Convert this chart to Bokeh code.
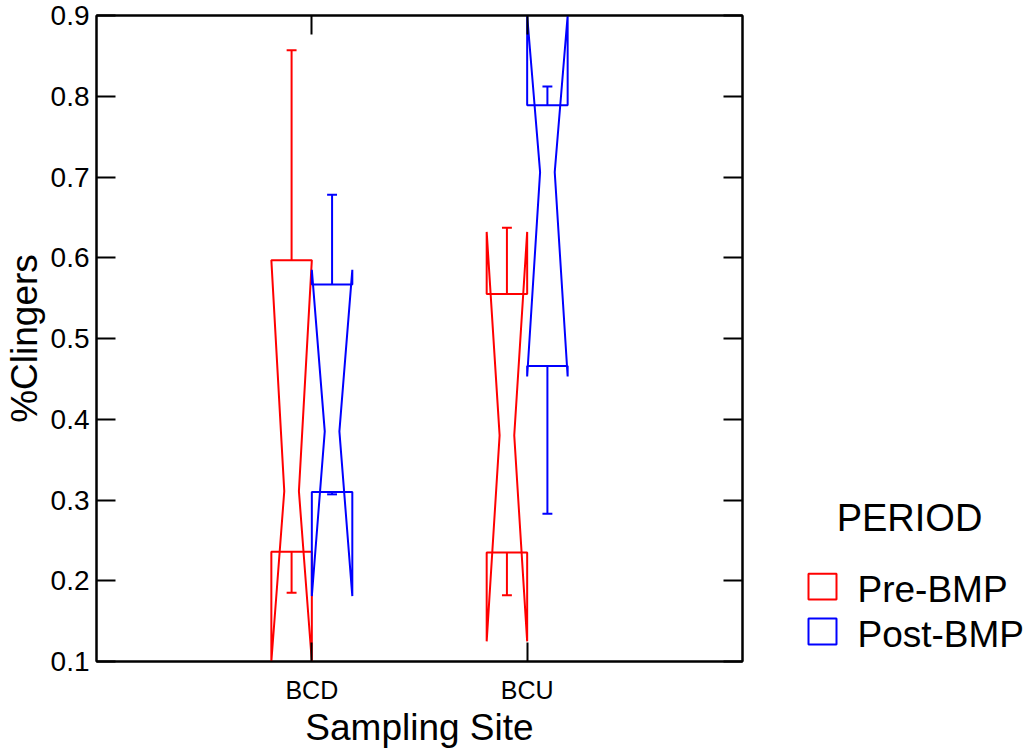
from bokeh.plotting import figure
from bokeh.layouts import row
from bokeh.models import (Range1d, LinearAxis, FixedTicker, CustomJSTickFormatter,
                          ColumnDataSource)
from bokeh.core.properties import value
from bokeh.embed import file_html
from bokeh.resources import INLINE

# ---- data ----
sites = ["BCD", "BCU"]
site_pos = [1, 2]
periods = ["Pre-BMP", "Post-BMP"]
colors = ["#ff0000", "#0000ff"]

pre_lower = [0.185, 0.182]
pre_q1 = [0.236, 0.235]
pre_median = [0.311, 0.380]
pre_q3 = [0.597, 0.555]
pre_upper = [0.857, 0.637]
pre_ci_low = [0.100, 0.125]
pre_ci_high = [0.597, 0.632]

post_lower = [0.307, 0.283]
post_q1 = [0.310, 0.466]
post_median = [0.385, 0.706]
post_q3 = [0.567, 0.789]
post_upper = [0.678, 0.812]
post_ci_low = [0.181, 0.453]
post_ci_high = [0.585, 0.900]

y_ticks = [0.1, 0.2, 0.3, 0.4, 0.5, 0.6, 0.7, 0.8, 0.9]
y_tick_labels = ["0.1", "0.2", "0.3", "0.4", "0.5", "0.6", "0.7", "0.8", "0.9"]
legend_title = "PERIOD"

FONT = "Liberation Sans"
MAIN_W = 745
LEG_W = 1029 - MAIN_W
TOP_B = 15
BOT_B = 88

p = figure(width=MAIN_W, height=750, x_range=Range1d(0, 3), y_range=Range1d(0.1, 0.9),
           output_backend="svg", toolbar_location=None, x_axis_location=None,
           y_axis_location=None)
p.min_border = 0
p.min_border_left = 96
p.min_border_right = 3
p.min_border_top = TOP_B
p.min_border_bottom = BOT_B
p.xgrid.visible = False
p.ygrid.visible = False
p.outline_line_color = "black"
p.outline_line_width = 2
p.background_fill_color = "white"
p.border_fill_color = "white"

blank = CustomJSTickFormatter(code="return ''")

def style_axis(ax):
    ax.axis_line_color = "black"
    ax.axis_line_width = 2
    ax.major_tick_line_color = "black"
    ax.major_tick_line_width = 2
    ax.major_tick_in = 19
    ax.major_tick_out = 0
    ax.minor_tick_line_color = None
    ax.major_label_text_font = FONT
    ax.axis_label_text_font = FONT
    ax.axis_label_text_font_style = "normal"
    ax.axis_label_text_color = "black"
    ax.major_label_text_color = "black"

# left
ly = LinearAxis(ticker=FixedTicker(ticks=y_ticks), axis_label="%Clingers")
style_axis(ly)
ly.major_label_overrides = {t: s for t, s in zip(y_ticks, y_tick_labels)}
ly.major_label_text_font_size = "28px"
ly.major_label_standoff = 7
ly.axis_label_text_font_size = "37px"
ly.axis_label_standoff = 3
p.add_layout(ly, "left")

# right
ry = LinearAxis(ticker=FixedTicker(ticks=y_ticks), formatter=blank)
style_axis(ry)
ry.major_label_standoff = 0
p.add_layout(ry, "right")

# bottom
bx = LinearAxis(ticker=FixedTicker(ticks=site_pos), axis_label="Sampling Site")
style_axis(bx)
bx.major_label_overrides = {pos: s for pos, s in zip(site_pos, sites)}
bx.major_label_text_font_size = "25px"
bx.major_label_standoff = 14
bx.axis_label_text_font_size = "37px"
bx.axis_label_standoff = 0
p.add_layout(bx, "below")

# top
tx = LinearAxis(ticker=FixedTicker(ticks=site_pos), formatter=blank)
style_axis(tx)
tx.major_label_standoff = 0
p.add_layout(tx, "above")

HALF = 0.094     # half box width (x units)
INDENT = 0.06    # notch indent
CAP = 0.023      # half cap width

def build(offset, lower, q1, med, q3, upper, lo, hi):
    xs, ys = [], []
    wx0, wy0, wx1, wy1 = [], [], [], []
    for i, s in enumerate(site_pos):
        c = s + offset
        L, R = c - HALF, c + HALF
        xs.append([L, L, L + INDENT, L, L, R, R, R - INDENT, R, R])
        ys.append([q3[i], hi[i], med[i], lo[i], q1[i], q1[i], lo[i], med[i], hi[i], q3[i]])
        wx0 += [c, c, c - CAP, c - CAP]
        wx1 += [c, c, c + CAP, c + CAP]
        wy0 += [q3[i], q1[i], upper[i], lower[i]]
        wy1 += [upper[i], lower[i], upper[i], lower[i]]
    return (ColumnDataSource(dict(xs=xs, ys=ys)),
            ColumnDataSource(dict(x0=wx0, y0=wy0, x1=wx1, y1=wy1)))

specs = [(-HALF, pre_lower, pre_q1, pre_median, pre_q3, pre_upper, pre_ci_low, pre_ci_high),
         (HALF, post_lower, post_q1, post_median, post_q3, post_upper, post_ci_low, post_ci_high)]
for col, spec in zip(colors, specs):
    box_src, wh_src = build(*spec)
    p.patches("xs", "ys", source=box_src, fill_alpha=0, line_color=col, line_width=2)
    p.segment("x0", "y0", "x1", "y1", source=wh_src, line_color=col, line_width=2)

# ---- legend panel: frame matches main frame; y range = page pixel rows ----
lg = figure(width=LEG_W, height=750, x_range=Range1d(0, LEG_W),
            y_range=Range1d(750 - BOT_B, TOP_B),
            output_backend="svg", toolbar_location=None, x_axis_location=None,
            y_axis_location=None)
lg.min_border = 0
lg.min_border_top = TOP_B
lg.min_border_bottom = BOT_B
lg.outline_line_color = None
lg.xgrid.visible = False
lg.ygrid.visible = False
lg.background_fill_color = "white"
lg.border_fill_color = "white"

OX = MAIN_W
key_left = [808 - OX, 808 - OX]
key_top = [574, 619]
lg.quad(left=key_left, right=[k + 28 for k in key_left], top=key_top,
        bottom=[t + 26 for t in key_top], fill_alpha=0, line_color=colors, line_width=2)
lg.text(x=[857 - OX] * 2, y=[t + 16 for t in key_top], text=periods,
        text_font=value(FONT), text_font_size="37px", text_baseline="alphabetic",
        text_align="left", text_color="black")
lg.text(x=[909 - OX], y=[518], text=[legend_title], text_font=value(FONT),
        text_font_size="38px", text_baseline="alphabetic", text_align="center",
        text_color="black")

layout = row(p, lg)
open("out.html", "w").write(file_html(layout, INLINE))
